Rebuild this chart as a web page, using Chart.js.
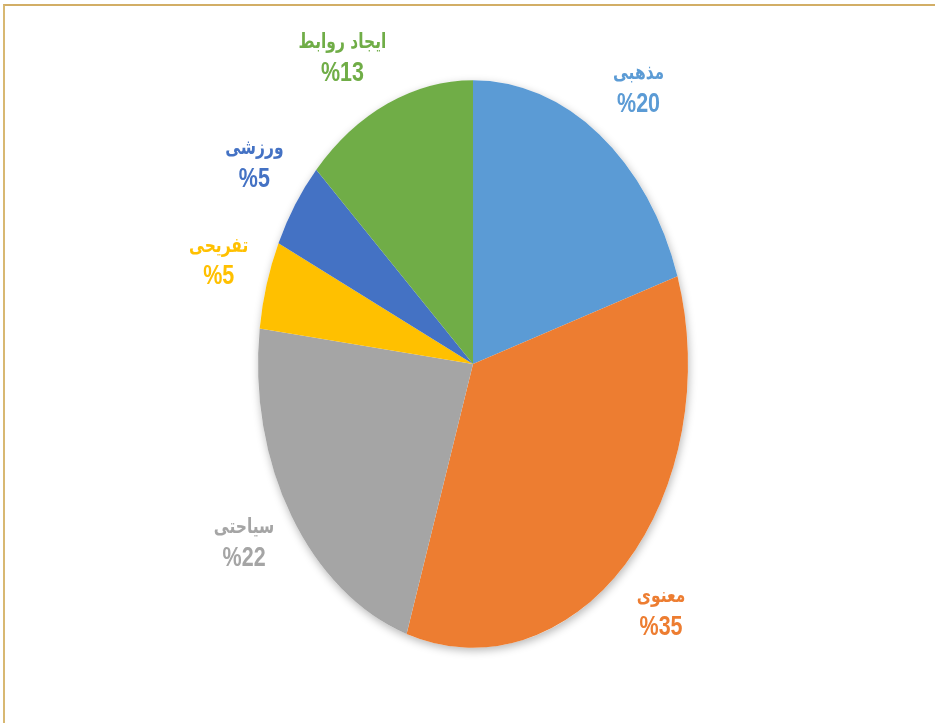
<!DOCTYPE html>
<html>
<head>
<meta charset="utf-8">
<script src="https://cdn.jsdelivr.net/npm/chart.js@4/dist/chart.umd.min.js"></script>
<style>
  html, body { margin: 0; padding: 0; background: #ffffff; }
  #wrap { position: relative; width: 935px; height: 723px; overflow: hidden; }
  #frame { position: absolute; left: 3px; top: 4px; width: 940px; height: 730px;
           border-top: 2px solid #D2AE66; border-left: 2px solid #D8B872; pointer-events: none; }
  canvas { position: absolute; left: 0; top: 0; }
</style>
</head>
<body>
<div id="wrap">
  <canvas id="c" width="935" height="723"></canvas>
  <div id="frame"></div>
</div>
<script>
// ---- data ----
const categories = ['مذهبی', 'معنوی', 'سیاحتی', 'تفریحی', 'ورزشی', 'ایجاد روابط'];
const values = [20, 35, 22, 5, 5, 13];
const percentLabels = ['%20', '%35', '%22', '%5', '%5', '%13'];
const sliceColors = ['#5B9BD5', '#ED7D31', '#A5A5A5', '#FFC000', '#4472C4', '#70AD47'];
const labelAngleNudgeDeg = [2.5, 0, 1.8, 0.8, 0.5, -6];

// vertical stretch of the pie (ellipse)
const SY = 1.32;

const ellipsePlugin = {
  id: 'ellipsePie',
  beforeDatasetsDraw(chart) {
    const a = chart.getDatasetMeta(0).data[0];
    const ctx = chart.ctx;
    ctx.save();
    ctx.translate(a.x, a.y);
    ctx.scale(1, SY);
    ctx.translate(-a.x, -a.y);
    // soft shadow under the pie
    ctx.save();
    ctx.shadowColor = 'rgba(0,0,0,0.28)';
    ctx.shadowBlur = 9;
    ctx.shadowOffsetX = 1;
    ctx.shadowOffsetY = 3;
    ctx.beginPath();
    ctx.arc(a.x, a.y, a.outerRadius, 0, Math.PI * 2);
    ctx.fillStyle = '#ffffff';
    ctx.fill();
    ctx.restore();
  },
  afterDatasetsDraw(chart) {
    const ctx = chart.ctx;
    const meta = chart.getDatasetMeta(0);
    ctx.textAlign = 'center';
    ctx.textBaseline = 'middle';
    meta.data.forEach((el, i) => {
      const mid = (el.startAngle + el.endAngle) / 2 + labelAngleNudgeDeg[i] * Math.PI / 180;
      const r = el.outerRadius * 1.237;
      const x = el.x + Math.cos(mid) * r;
      const y = el.y + Math.sin(mid) * r;
      ctx.fillStyle = sliceColors[i];
      ctx.font = 'bold 15.5px "DejaVu Sans"';
      ctx.fillText(categories[i], x, y - 11.5);
      ctx.font = 'bold 21.5px "Liberation Sans"';
      ctx.fillText(percentLabels[i], x, y + 11.5);
    });
    ctx.restore();
  }
};

new Chart(document.getElementById('c'), {
  type: 'pie',
  data: {
    labels: categories,
    datasets: [{
      data: values,
      backgroundColor: sliceColors,
      borderWidth: 0,
      clip: false
    }]
  },
  options: {
    responsive: false,
    animation: false,
    events: [],
    layout: { padding: { left: 258, right: 247, top: 149, bottom: 144 } },
    plugins: {
      legend: { display: false },
      tooltip: { enabled: false }
    }
  },
  plugins: [ellipsePlugin]
});
</script>
</body>
</html>
